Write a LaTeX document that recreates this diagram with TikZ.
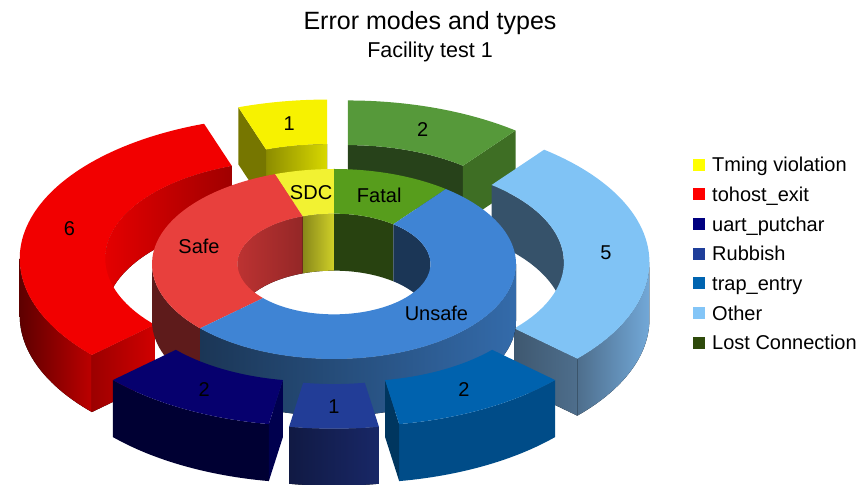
\documentclass[tikz,border=0pt]{standalone}
\usepackage{fontspec}
\setmainfont{Liberation Sans}
% outer ring (error types)
\definecolor{timTop}{HTML}{F7F200}
\definecolor{timIn}{HTML}{D8D800}
\definecolor{timCut}{HTML}{767600}
\definecolor{hostTop}{HTML}{F20000}
\definecolor{hostIn}{HTML}{BC0000}
\definecolor{hostOut}{HTML}{5E0000}
\definecolor{hostCut}{HTML}{D00000}
\definecolor{uartTop}{HTML}{06006E}
\definecolor{uartOut}{HTML}{000033}
\definecolor{uartCut}{HTML}{00004E}
\definecolor{rubTop}{HTML}{223D97}
\definecolor{rubOut}{HTML}{16225A}
\definecolor{trapTop}{HTML}{0062AE}
\definecolor{trapOut}{HTML}{004C88}
\definecolor{trapCut}{HTML}{00365F}
\definecolor{othTop}{HTML}{80C3F5}
\definecolor{othIn}{HTML}{36526A}
\definecolor{othOut}{HTML}{72A8D8}
\definecolor{othCut}{HTML}{4E6E8C}
\definecolor{lostTop}{HTML}{56993A}
\definecolor{lostIn}{HTML}{27421A}
\definecolor{lostCut}{HTML}{3E6E24}
% inner ring (error modes)
\definecolor{sdcTop}{HTML}{F2F232}
\definecolor{sdcIn}{HTML}{D0D028}
\definecolor{fatalTop}{HTML}{579D1C}
\definecolor{fatalIn}{HTML}{284210}
\definecolor{safeTop}{HTML}{E8403D}
\definecolor{safeIn}{HTML}{AE2E2E}
\definecolor{safeOut}{HTML}{5E1B1B}
\definecolor{unsafeTop}{HTML}{3F84D4}
\definecolor{unsafeIn}{HTML}{1B3656}
\definecolor{unsafeOut}{HTML}{2C5A8E}
% legend
\definecolor{keyTim}{HTML}{FFFF00}
\definecolor{keyHost}{HTML}{FF0000}
\definecolor{keyUart}{HTML}{000080}
\definecolor{keyRub}{HTML}{1F3E9A}
\definecolor{keyTrap}{HTML}{0064B0}
\definecolor{keyOth}{HTML}{83C5F7}
\definecolor{keyLost}{HTML}{2E4A0B}
\tikzset{
  every picture/.style={x=1pt,y=1pt},
  ttl/.style={anchor=base,font=\fontsize{25}{30}\selectfont},
  subttl/.style={anchor=base,font=\fontsize{21.5}{26}\selectfont},
  lbl/.style={inner sep=0pt,font=\fontsize{20}{24}\selectfont},
  keybox/.style={minimum size=12pt,inner sep=0pt},
  keytext/.style={anchor=base west,inner sep=0pt,font=\fontsize{20}{24}\selectfont},
}
\newcommand{\wallh}{0.6}
\newcommand{\gap}{0.234}
% top of a ring piece: start, end, inner r, outer r, fill
\newcommand{\piecetop}[5]{\fill[#5] (#1:#4) arc[start angle=#1,end angle=#2,radius=#4]
  -- (#2:#3) arc[start angle=#2,end angle=#1,radius=#3] -- cycle;}
% curved wall hanging from an arc: start, end, r, fill
\newcommand{\piecewall}[4]{\fill[#4] (#1:#3) arc[start angle=#1,end angle=#2,radius=#3]
  -- ++(0,-\wallh) arc[start angle=#2,end angle=#1,radius=#3] -- cycle;}
% flat cut face at one angle: angle, inner r, outer r, fill
\newcommand{\piececut}[4]{\fill[#4] (#1:#2) -- (#1:#3) -- ++(0,-\wallh)
  -- ++({#1+180}:{#3-#2}) -- cycle;}

\begin{document}
\begin{tikzpicture}
  \useasboundingbox (0,0) rectangle (861,484);
  \clip (0,0) rectangle (861,484);
  \node[ttl] (title) at (430,454) {Error modes and types};
  \node[subttl] (subtitle) at (430,426) {Facility test 1};

  \begin{scope}[shift={(334,220)},xscale=182,yscale=95]
    % far pieces of the outer ring
    \begin{scope}[shift={(99.47:\gap)}]
      \piecewall{90}{108.95}{1.03}{left color=timIn!65!black,right color=timIn}
      \piececut{108.95}{1.03}{1.5}{timCut}
      \piecetop{90}{108.95}{1.03}{1.5}{timTop}
      \node[lbl] (v-tim) at (99.47:1.265) {1};
    \end{scope}
    \begin{scope}[shift={(71.05:\gap)}]
      \piecewall{52.1}{90}{1.03}{lostIn}
      \piececut{52.1}{1.03}{1.5}{lostCut}
      \piecetop{52.1}{90}{1.03}{1.5}{lostTop}
      \node[lbl] (v-lost) at (71.05:1.265) {2};
    \end{scope}
    \begin{scope}[shift={(165.79:\gap)}]
      \piecewall{108.95}{180}{1.03}{left color=hostTop!94!black,right color=hostIn!85!black}
      \piecewall{180}{222.63}{1.5}{left color=hostOut,right color=hostIn}
      \piececut{222.63}{1.03}{1.5}{left color=hostCut!75!black,right color=hostCut}
      \piecetop{108.95}{222.63}{1.03}{1.5}{hostTop}
      \node[lbl] (v-host) at (165.79:1.265) {6};
    \end{scope}
    \begin{scope}[shift={(4.74:\gap)}]
      \piecewall{0}{52.1}{1.03}{othIn}
      \piecewall{317.37}{360}{1.5}{left color=othCut,right color=othOut}
      \piececut{317.37}{1.03}{1.5}{left color=othCut!80!black,right color=othCut}
      \piecetop{317.37}{412.1}{1.03}{1.5}{othTop}
      \node[lbl] (v-oth) at (4.74:1.265) {5};
    \end{scope}

    % inner ring: back walls, front walls, then the tops
    \piecewall{90}{108.95}{0.53}{left color=sdcIn!65!black,right color=sdcIn}
    \piecewall{52.1}{90}{0.53}{fatalIn}
    \piecewall{108.95}{180}{0.53}{left color=safeIn!75!safeTop,right color=safeIn!85!black}
    \piecewall{0}{52.1}{0.53}{unsafeIn}
    \piecewall{180}{222.63}{1}{safeOut}
    \piecewall{222.63}{360}{1}{left color=unsafeIn,right color=unsafeOut!60!unsafeTop}
    \piecetop{90}{108.95}{0.53}{1}{sdcTop}
    \piecetop{52.1}{90}{0.53}{1}{fatalTop}
    \piecetop{108.95}{222.63}{0.53}{1}{safeTop}
    \piecetop{222.63}{412.1}{0.53}{1}{unsafeTop}
    \node[lbl] (m-sdc) at (99.47:0.765) {SDC};
    \node[lbl] (m-fatal) at (71.05:0.765) {Fatal};
    \node[lbl] (m-safe) at (165.79:0.765) {Safe};
    \node[lbl] (m-unsafe) at (317.37:0.765) {Unsafe};

    % near pieces of the outer ring
    \begin{scope}[shift={(241.58:\gap)}]
      \piecewall{222.63}{260.53}{1.5}{uartOut}
      \piececut{260.53}{1.03}{1.5}{uartCut}
      \piecetop{222.63}{260.53}{1.03}{1.5}{uartTop}
      \node[lbl] (v-uart) at (241.58:1.265) {2};
    \end{scope}
    \begin{scope}[shift={(270:\gap)}]
      \piecewall{260.53}{279.47}{1.5}{left color=rubOut!75!black,right color=rubOut!80!rubTop}
      \piecetop{260.53}{279.47}{1.03}{1.5}{rubTop}
      \node[lbl] (v-rub) at (270:1.265) {1};
    \end{scope}
    \begin{scope}[shift={(298.42:\gap)}]
      \piecewall{279.47}{317.37}{1.5}{trapOut}
      \piececut{279.47}{1.03}{1.5}{trapCut}
      \piecetop{279.47}{317.37}{1.03}{1.5}{trapTop}
      \node[lbl] (v-trap) at (298.42:1.265) {2};
    \end{scope}
  \end{scope}

  % legend
  \foreach \col/\txt [count=\k] in {keyTim/Tming violation,keyHost/tohost\_exit,
      keyUart/uart\_putchar,keyRub/Rubbish,keyTrap/trap\_entry,keyOth/Other,
      keyLost/Lost Connection}{
    \node[keybox,fill=\col] (key\k) at (699,{349-29.67*\k}) {};
    \node[keytext] (keytxt\k) at (712,{342-29.67*\k}) {\txt};
  }
\end{tikzpicture}
\end{document}
